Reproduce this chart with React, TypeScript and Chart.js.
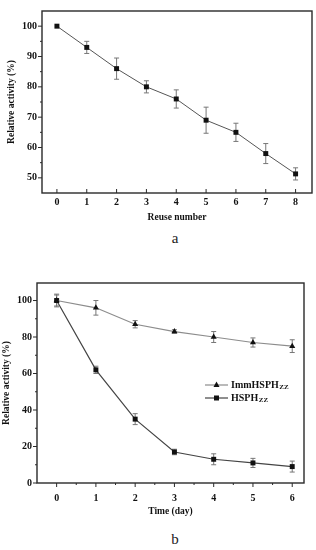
import React, { useEffect, useRef } from 'react';
import { Chart, registerables } from 'chart.js';

Chart.register(...registerables);

// ---------- data ----------
const reuseNumbers = [0, 1, 2, 3, 4, 5, 6, 7, 8];
const reuseActivity = [100, 93, 86, 80, 76, 69, 65, 58, 51.3];
const reuseError = [0, 2, 3.5, 2, 3, 4.3, 3, 3.3, 2];
const reuseYTicks = [50, 60, 70, 80, 90, 100];
const reuseYMinor = [55, 65, 75, 85, 95];

const days = [0, 1, 2, 3, 4, 5, 6];
const immActivity = [100, 96, 87, 83, 80, 77, 75];
const immError = [3.5, 4, 2, 1, 3, 2.5, 3.5];
const freeActivity = [100, 62, 35, 17, 13, 11, 9];
const freeError = [3, 2, 3, 1.5, 3, 2.5, 3];
const stabYTicks = [0, 20, 40, 60, 80, 100];
const stabYMinor = [10, 30, 50, 70, 90];
const stabXMinor = [0.5, 1.5, 2.5, 3.5, 4.5, 5.5];

const SERIF = '"Liberation Serif", "Times New Roman", serif';

// ---------- plugins ----------
const errorBars = {
  id: 'errorBars',
  beforeDatasetsDraw(chart: any) {
    const { ctx } = chart;
    const ys = chart.scales.y;
    chart.data.datasets.forEach((ds: any, i: number) => {
      const errs = ds.errors;
      if (!errs) return;
      const meta = chart.getDatasetMeta(i);
      ctx.save();
      ctx.strokeStyle = '#777';
      ctx.lineWidth = 1;
      meta.data.forEach((pt: any, j: number) => {
        const e = errs[j];
        if (!e) return;
        const v = ds.data[j].y;
        const top = ys.getPixelForValue(v + e);
        const bot = ys.getPixelForValue(v - e);
        const x = pt.x;
        ctx.beginPath();
        ctx.moveTo(x, top);
        ctx.lineTo(x, bot);
        ctx.moveTo(x - 2.5, top);
        ctx.lineTo(x + 2.5, top);
        ctx.moveTo(x - 2.5, bot);
        ctx.lineTo(x + 2.5, bot);
        ctx.stroke();
      });
      ctx.restore();
    });
  },
};

const frameTicks = {
  id: 'frameTicks',
  afterDraw(chart: any, _args: any, opts: any) {
    const { ctx, chartArea: a, scales } = chart;
    ctx.save();
    ctx.strokeStyle = '#2a2a2a';
    ctx.lineWidth = 1.4;
    ctx.strokeRect(a.left, a.top, a.right - a.left, a.bottom - a.top);
    ctx.lineWidth = 1;
    const seg = (x1: number, y1: number, x2: number, y2: number) => {
      ctx.beginPath();
      ctx.moveTo(x1, y1);
      ctx.lineTo(x2, y2);
      ctx.stroke();
    };
    (opts.yMajor || []).forEach((v: number) => {
      const y = scales.y.getPixelForValue(v);
      seg(a.left - 4, y, a.left, y);
    });
    (opts.yMinor || []).forEach((v: number) => {
      const y = scales.y.getPixelForValue(v);
      seg(a.left - 2, y, a.left, y);
    });
    const dir = opts.xInward ? -1 : 1;
    (opts.xMajor || []).forEach((v: number) => {
      const x = scales.x.getPixelForValue(v);
      seg(x, a.bottom, x, a.bottom + dir * 4);
    });
    (opts.xMinor || []).forEach((v: number) => {
      const x = scales.x.getPixelForValue(v);
      seg(x, a.bottom, x, a.bottom + dir * 2);
    });
    ctx.restore();
  },
};

const customLegend = {
  id: 'customLegend',
  afterDraw(chart: any, _args: any, opts: any) {
    if (!opts.items) return;
    const { ctx } = chart;
    ctx.save();
    opts.items.forEach((it: any, i: number) => {
      const y = opts.y + i * opts.spacing;
      ctx.strokeStyle = it.color;
      ctx.lineWidth = 1.2;
      ctx.beginPath();
      ctx.moveTo(opts.x, y);
      ctx.lineTo(opts.x + 23, y);
      ctx.stroke();
      ctx.fillStyle = '#111';
      const cx = opts.x + 11.5;
      ctx.beginPath();
      if (it.marker === 'triangle') {
        ctx.moveTo(cx, y - 3.5);
        ctx.lineTo(cx + 3, y + 2);
        ctx.lineTo(cx - 3, y + 2);
        ctx.closePath();
      } else {
        ctx.rect(cx - 2.5, y - 2.5, 5, 5);
      }
      ctx.fill();
      ctx.fillStyle = '#111';
      ctx.textBaseline = 'middle';
      ctx.font = `bold 10px ${SERIF}`;
      const tx = opts.x + 26;
      ctx.fillText(it.main, tx, y);
      const w = ctx.measureText(it.main).width;
      ctx.font = `bold 7px ${SERIF}`;
      ctx.fillText(it.sub, tx + w + 0.5, y + 2);
    });
    ctx.restore();
  },
};

// ---------- chart component ----------
function ChartCanvas({ width, height, config }: { width: number; height: number; config: any }) {
  const ref = useRef<HTMLCanvasElement | null>(null);
  useEffect(() => {
    if (!ref.current) return;
    const chart = new Chart(ref.current, config);
    return () => chart.destroy();
  }, []);
  return <canvas ref={ref} width={width} height={height} style={{ display: 'block', width, height }} />;
}

const tickFont = { family: SERIF, size: 10, weight: 'bold' as const };
const titleFont = { family: SERIF, size: 9.5, weight: 'bold' as const };

const reuseConfig = {
  type: 'line',
  data: {
    datasets: [
      {
        data: reuseNumbers.map((x, i) => ({ x, y: reuseActivity[i] })),
        errors: reuseError,
        borderColor: '#555',
        borderWidth: 1,
        pointStyle: 'rect',
        pointRadius: 3.5,
        pointBackgroundColor: '#111',
        pointBorderColor: '#111',
        pointBorderWidth: 0,
        tension: 0,
      },
    ],
  },
  options: {
    responsive: false,
    animation: false,
    devicePixelRatio: 1,
    layout: { padding: { top: 4, right: 4, left: 0, bottom: 0 } },
    plugins: {
      legend: { display: false },
      tooltip: { enabled: false },
      frameTicks: { yMajor: reuseYTicks, yMinor: reuseYMinor, xMajor: reuseNumbers, xMinor: [], xInward: true },
    },
    scales: {
      x: {
        type: 'linear',
        min: -0.5,
        max: 8.55,
        afterBuildTicks: (s: any) => { s.ticks = reuseNumbers.map((v) => ({ value: v })); },
        afterFit: (s: any) => { s.height = 37; },
        grid: { display: false, drawTicks: false, tickLength: 0 },
        border: { display: false },
        ticks: { font: tickFont, color: '#111', padding: 3, maxRotation: 0, autoSkip: false, callback: (v: any) => String(v) },
        title: { display: true, text: 'Reuse number', font: titleFont, color: '#111', padding: { top: 0, bottom: 6.3 } },
      },
      y: {
        type: 'linear',
        min: 45,
        max: 105,
        afterBuildTicks: (s: any) => { s.ticks = reuseYTicks.map((v) => ({ value: v })); },
        afterFit: (s: any) => { s.width = 42; },
        grid: { display: false, drawTicks: false, tickLength: 0 },
        border: { display: false },
        ticks: { font: tickFont, color: '#111', padding: 5, callback: (v: any) => String(v) },
        title: { display: true, text: 'Relative activity (%)', font: titleFont, color: '#111', padding: { top: 6.3, bottom: 0 } },
      },
    },
  },
  plugins: [errorBars, frameTicks],
};

const stabConfig = {
  type: 'line',
  data: {
    datasets: [
      {
        data: days.map((x, i) => ({ x, y: immActivity[i] })),
        errors: immError,
        borderColor: '#8c8c8c',
        borderWidth: 1.2,
        pointStyle: 'triangle',
        pointRadius: 3.5,
        pointBackgroundColor: '#111',
        pointBorderColor: '#111',
        pointBorderWidth: 0,
        tension: 0,
      },
      {
        data: days.map((x, i) => ({ x, y: freeActivity[i] })),
        errors: freeError,
        borderColor: '#444',
        borderWidth: 1.2,
        pointStyle: 'rect',
        pointRadius: 3.5,
        pointBackgroundColor: '#111',
        pointBorderColor: '#111',
        pointBorderWidth: 0,
        tension: 0,
      },
    ],
  },
  options: {
    responsive: false,
    animation: false,
    devicePixelRatio: 1,
    layout: { padding: { top: 13, right: 12, left: 0, bottom: 0 } },
    plugins: {
      legend: { display: false },
      tooltip: { enabled: false },
      frameTicks: { yMajor: stabYTicks, yMinor: stabYMinor, xMajor: days, xMinor: stabXMinor, xInward: false },
      customLegend: {
        x: 205,
        y: 115,
        spacing: 13,
        items: [
          { main: 'ImmHSPH', sub: 'ZZ', color: '#8c8c8c', marker: 'triangle' },
          { main: 'HSPH', sub: 'ZZ', color: '#444', marker: 'rect' },
        ],
      },
    },
    scales: {
      x: {
        type: 'linear',
        min: -0.5,
        max: 6.3,
        afterBuildTicks: (s: any) => { s.ticks = days.map((v) => ({ value: v })); },
        afterFit: (s: any) => { s.height = 37; },
        grid: { display: false, drawTicks: false, tickLength: 0 },
        border: { display: false },
        ticks: { font: tickFont, color: '#111', padding: 9, maxRotation: 0, autoSkip: false, callback: (v: any) => String(v) },
        title: { display: true, text: 'Time (day)', font: titleFont, color: '#111', padding: { top: 0, bottom: 2.6 } },
      },
      y: {
        type: 'linear',
        min: 0,
        max: 109.6,
        afterBuildTicks: (s: any) => { s.ticks = stabYTicks.map((v) => ({ value: v })); },
        afterFit: (s: any) => { s.width = 37; },
        grid: { display: false, drawTicks: false, tickLength: 0 },
        border: { display: false },
        ticks: { font: tickFont, color: '#111', padding: 5, callback: (v: any) => String(v) },
        title: { display: true, text: 'Relative activity (%)', font: titleFont, color: '#111', padding: { top: 1.3, bottom: 0 } },
      },
    },
  },
  plugins: [errorBars, frameTicks, customLegend],
};

export default function App() {
  return (
    <div style={{ position: 'absolute', left: 0, top: 0, width: 316, height: 550, background: '#fff', overflow: 'hidden' }}>
      <div style={{ position: 'absolute', left: 0, top: 0 }}>
        <ChartCanvas width={316} height={230} config={reuseConfig} />
      </div>
      <div
        style={{
          position: 'absolute', left: 175, top: 231, transform: 'translateX(-50%)',
          fontFamily: SERIF, fontSize: 15, lineHeight: '15px', color: '#222',
        }}
      >
        a
      </div>
      <div style={{ position: 'absolute', left: 0, top: 270 }}>
        <ChartCanvas width={316} height={250} config={stabConfig} />
      </div>
      <div
        style={{
          position: 'absolute', left: 175, top: 532, transform: 'translateX(-50%)',
          fontFamily: SERIF, fontSize: 15, lineHeight: '15px', color: '#222',
        }}
      >
        b
      </div>
    </div>
  );
}
